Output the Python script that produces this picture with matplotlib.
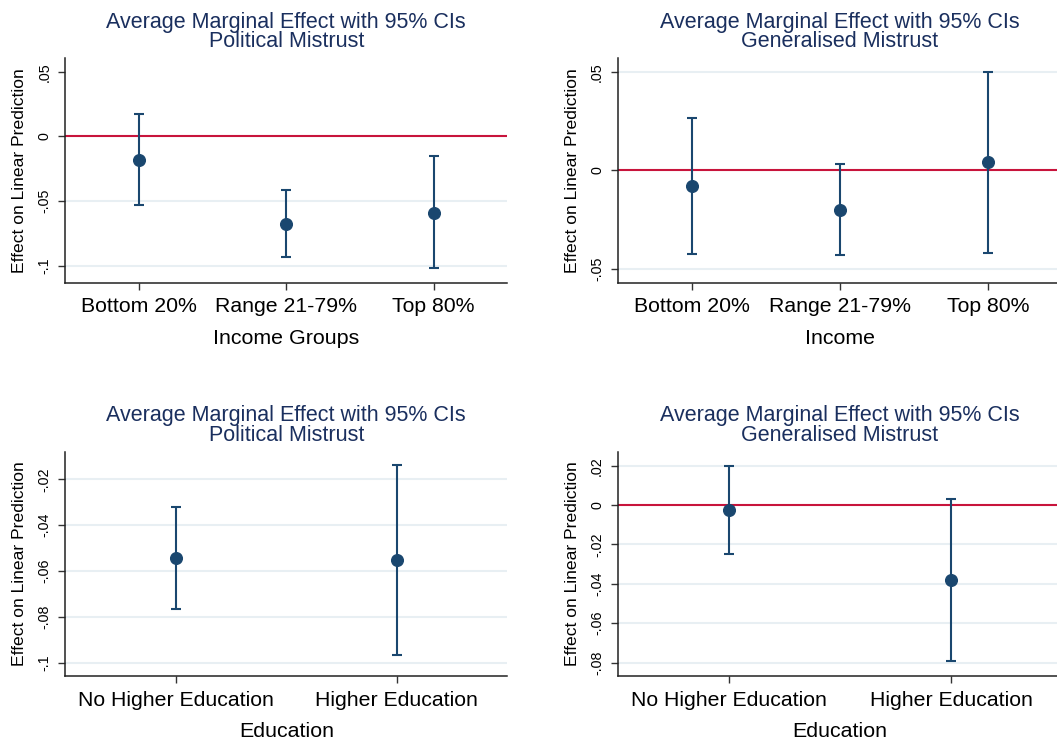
import matplotlib
matplotlib.use("Agg")
import matplotlib.pyplot as plt

plt.rcParams['font.family'] = ['Liberation Sans', 'DejaVu Sans']

# ---- data ----
income_groups = ["Bottom 20%", "Range 21-79%", "Top 80%"]
edu_groups = ["No Higher Education", "Higher Education"]

pol_inc_est = [-0.018, -0.068, -0.059]
pol_inc_lo = [-0.053, -0.0935, -0.102]
pol_inc_hi = [0.017, -0.0415, -0.0155]

gen_inc_est = [-0.008, -0.020, 0.004]
gen_inc_lo = [-0.0425, -0.043, -0.042]
gen_inc_hi = [0.0265, 0.0032, 0.050]

pol_edu_est = [-0.0545, -0.0552]
pol_edu_lo = [-0.0766, -0.0967]
pol_edu_hi = [-0.0322, -0.0139]

gen_edu_est = [-0.0025, -0.038]
gen_edu_lo = [-0.025, -0.079]
gen_edu_hi = [0.0198, 0.0032]

pol_inc_ticks = [0.05, 0.0, -0.05, -0.1]
gen_inc_ticks = [0.05, 0.0, -0.05]
pol_edu_ticks = [-0.02, -0.04, -0.06, -0.08, -0.1]
gen_edu_ticks = [0.02, 0.0, -0.02, -0.04, -0.06, -0.08]

title_main = "Average Marginal Effect with 95% CIs"
ylabel = "Effect on Linear Prediction"

# ---- style ----
W, H = 1057, 745
NAVY = '#1a476f'
TITLE_C = '#1a2f5e'
RED = '#c8143c'
GRID = '#e8eff3'


def fmt(v):
    s = f"{v:g}"
    return s.replace("0.", ".")


def panel(rect_px, cats, est, lo, hi, ticks, ylim, sub, xlabel, grid_ticks, zero_line):
    l, r, t, b = rect_px
    ax = fig.add_axes([l / W, 1 - b / H, (r - l) / W, (b - t) / H])
    x = list(range(1, len(cats) + 1))
    for g in grid_ticks:
        ax.axhline(g, color=GRID, lw=1.5, zorder=0)
    if zero_line:
        ax.axhline(0, color=RED, lw=1.5, zorder=1)
    yerr = [[e - a for e, a in zip(est, lo)], [c - e for e, c in zip(est, hi)]]
    ax.errorbar(x, est, yerr=yerr, fmt='o', color=NAVY, ecolor=NAVY,
                elinewidth=1.5, capsize=3.4, capthick=1.5, markersize=8.4, zorder=3)
    ax.set_xlim(0.5, len(cats) + 0.5)
    ax.set_ylim(*ylim)
    ax.set_xticks(x)
    ax.set_xticklabels(cats, fontsize=15.3)
    ax.set_yticks(ticks)
    ax.set_yticklabels([fmt(v) for v in ticks], fontsize=10.3, rotation=90, va='center')
    for s in ['top', 'right']:
        ax.spines[s].set_visible(False)
    for s in ['left', 'bottom']:
        ax.spines[s].set_color('#222222')
        ax.spines[s].set_linewidth(1.1)
    ax.tick_params(axis='both', length=5, width=1.0, color='#333333')
    ax.tick_params(axis='y', pad=5)
    ax.tick_params(axis='x', pad=5.5)
    ax.set_xlabel(xlabel, fontsize=15.4, labelpad=9)
    ax.set_ylabel(ylabel, fontsize=12.6, labelpad=7.5)
    ax.set_title(title_main + "\n" + sub, fontsize=15.5, color=TITLE_C,
                 linespacing=0.9, pad=8)
    return ax


fig = plt.figure(figsize=(W / 100, H / 100), dpi=100)

panel((65.3, 507.3, 58.3, 282.7), income_groups, pol_inc_est, pol_inc_lo, pol_inc_hi,
      pol_inc_ticks, (-0.1131, 0.0604), "Political Mistrust", "Income Groups",
      [-0.05, -0.1], True)
panel((618, 1062, 58.3, 282.7), income_groups, gen_inc_est, gen_inc_lo, gen_inc_hi,
      gen_inc_ticks, (-0.0571, 0.0568), "Generalised Mistrust", "Income",
      [0.05, -0.05], True)
panel((65.3, 507.3, 451.7, 676), edu_groups, pol_edu_est, pol_edu_lo, pol_edu_hi,
      pol_edu_ticks, (-0.1058, -0.00796), "Political Mistrust", "Education",
      pol_edu_ticks, False)
panel((618, 1062, 451.7, 676), edu_groups, gen_edu_est, gen_edu_lo, gen_edu_hi,
      gen_edu_ticks, (-0.0868, 0.0271), "Generalised Mistrust", "Education",
      [0.02, -0.02, -0.04, -0.06, -0.08], True)

fig.savefig("out.png", dpi=100)
